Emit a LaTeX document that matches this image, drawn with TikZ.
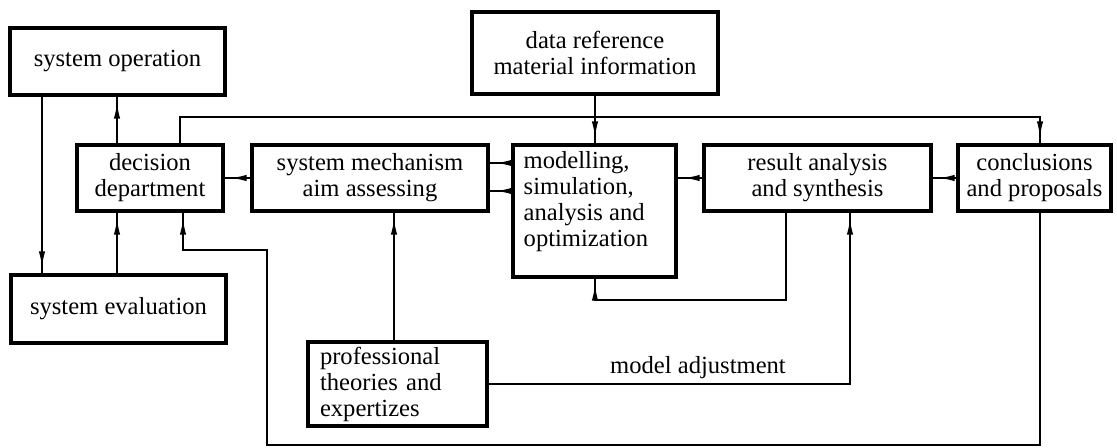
\documentclass[tikz,border=0pt]{standalone}
\usepackage{fontspec}
\setmainfont{Liberation Serif}
\usetikzlibrary{arrows.meta,decorations.markings}
\begin{document}
\begin{tikzpicture}[x=0.5pt,y=-0.5pt,
  txt/.style={font=\fontsize{12.3}{13}\selectfont},
  box/.style={draw, line width=1.7pt, inner sep=0pt, align=center, txt},
  conn/.style={line width=0.75pt},
  arr/.style={conn, postaction={decorate},
    decoration={markings, mark=at position -3pt with {\arrow{Latex[length=8pt,width=3.2pt]}}}}
]
\useasboundingbox (0,0) rectangle (1117,448);

% boxes
\node[box, minimum width=107.5pt, minimum height=33.5pt] (sysop) at (117.5,61.5) {system operation};
\node[box, minimum width=123pt, minimum height=41pt] (dataref) at (595,53) {data reference\\material information};
\node[box, minimum width=73pt, minimum height=33pt] (decision) at (150,178) {decision\\department};
\node[box, minimum width=118pt, minimum height=33pt] (mech) at (370,178) {system mechanism\\aim assessing};
\node[box, minimum width=81.5pt, minimum height=66pt] (model) at (594.5,211) {};
\node[txt, anchor=north west, inner sep=0pt, align=left] (modeltext) at ([xshift=6pt,yshift=-4pt]model.north west) {modelling,\\simulation,\\analysis and\\optimization};
\node[box, minimum width=113.5pt, minimum height=33pt] (result) at (817.5,178) {result analysis\\and synthesis};
\node[box, minimum width=76.5pt, minimum height=33pt] (concl) at (1034.5,178) {conclusions\\and proposals};
\node[box, minimum width=107.5pt, minimum height=34pt] (eval) at (118.5,309) {system evaluation};
\node[box, inner xsep=6pt, text width=77.5pt, align=left, minimum height=42pt] (prof) at (397.5,384) {professional\\theories and\\expertizes};
\node[txt, inner sep=0pt] (madj) at (698,368) {model adjustment};

% helper coordinates
\coordinate (yTop) at (0,117);
\coordinate (yLoop) at (0,300);
\coordinate (yBot) at (0,445);
\coordinate (yStep) at (0,250);
\coordinate (yM1) at (0,163);
\coordinate (yM2) at (0,191);
\coordinate (xA) at (42,0);
\coordinate (xB) at (117,0);
\coordinate (xC) at (180,0);
\coordinate (xD) at (183,0);
\coordinate (xE) at (267,0);
\coordinate (xF) at (394,0);
\coordinate (xG) at (595,0);
\coordinate (xH) at (786,0);
\coordinate (xI) at (850,0);
\coordinate (xJ) at (1040,0);

% connectors
\draw[arr] (decision.north -| xB) -- (sysop.south -| xB);
\draw[arr] (sysop.south -| xA) -- (eval.north -| xA);
\draw[arr] (eval.north -| xB) -- (decision.south -| xB);
\draw[arr] (decision.north -| xC) -- (xC |- yTop) -- (xJ |- yTop) -- (concl.north -| xJ);
\draw[arr] (dataref.south -| xG) -- (model.north -| xG);
\draw[arr] (mech.west) -- (decision.east);
\draw[arr] (model.west |- yM1) -- (mech.east |- yM1);
\draw[arr] (model.west |- yM2) -- (mech.east |- yM2);
\draw[arr] (result.west) -- (model.east |- result.west);
\draw[arr] (concl.west) -- (result.east);
\draw[arr] (result.south -| xH) -- (xH |- yLoop) -- (xG |- yLoop) -- (model.south -| xG);
\draw[arr] (prof.east) -- (prof.east -| xI) -- (result.south -| xI);
\draw[arr] (prof.north -| xF) -- (mech.south -| xF);
\draw[arr] (concl.south -| xJ) -- (xJ |- yBot) -- (xE |- yBot) -- (xE |- yStep) -- (xD |- yStep) -- (decision.south -| xD);
\end{tikzpicture}
\end{document}
